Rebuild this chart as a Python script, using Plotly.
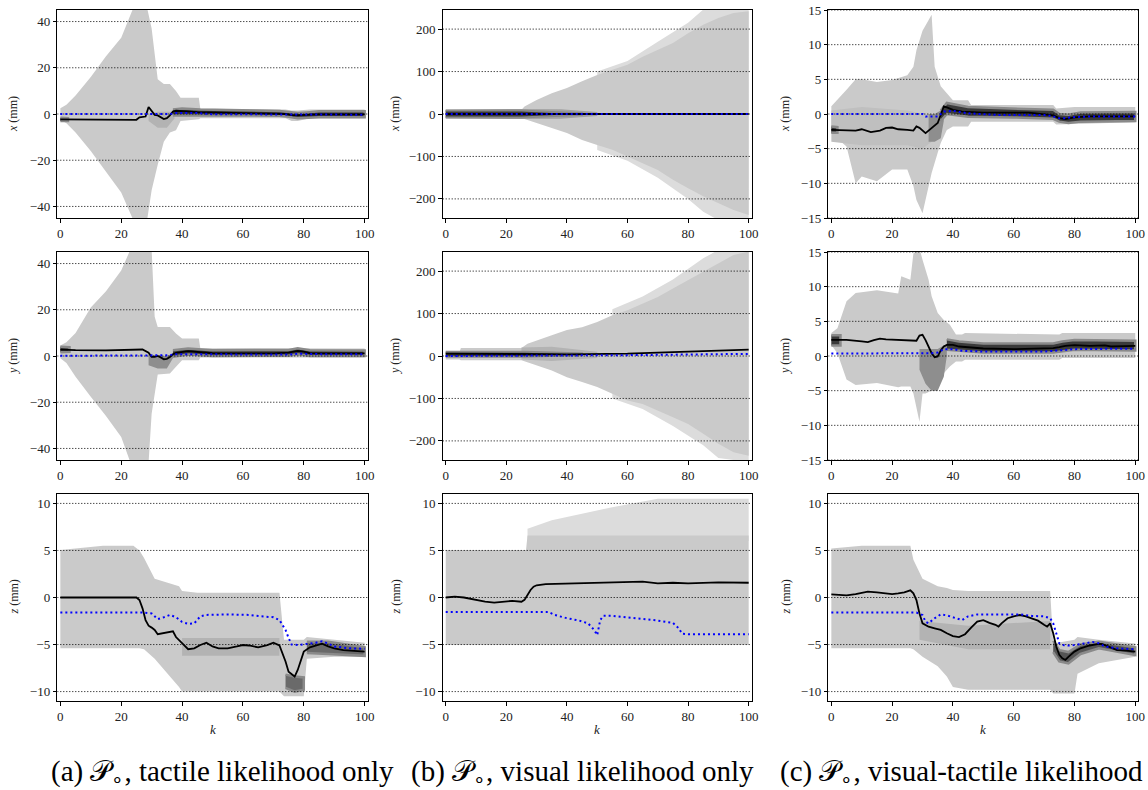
import plotly.graph_objects as go
from plotly.subplots import make_subplots

# ---------------------------------------------------------------- axes
K_RANGE = [-1, 101]
K_TICKS = [0, 20, 40, 60, 80, 100]
XY_TACT_TICKS = [-40, -20, 0, 20, 40]
XY_VIS_TICKS = [-200, -100, 0, 100, 200]
XY_VT_TICKS = [-15, -10, -5, 0, 5, 10, 15]
Z_TICKS = [-10, -5, 0, 5, 10]
XY_TACT_RANGE = [-45, 45]
XY_VIS_RANGE = [-245, 245]
XY_VT_RANGE = [-15, 15]
Z_RANGE = [-11, 11]

ROW_LABELS = ["x", "y", "z"]
CAPTIONS = [
    "(a) \U0001D4AB<sub>\u2218</sub>, tactile likelihood only",
    "(b) \U0001D4AB<sub>\u2218</sub>, visual likelihood only",
    "(c) \U0001D4AB<sub>\u2218</sub>, visual-tactile likelihood",
]

# ------------------------------------------------ (a) tactile likelihood
tac_x_mean_k = [0, 25, 26, 28, 29, 30, 31, 32, 34, 35, 36, 37, 38, 45, 55, 65, 74, 76.5, 80, 85, 100]
tac_x_mean = [-2.3, -2.5, -1.4, -1.1, 3.0, 1.1, -0.4, -0.6, -2.2, -1.8, -0.6, 1.1, 1.4, 0.8, 0.6, 0.5, 0.0, -0.6, -0.5, -0.2, -0.2]
tac_x_true_k = [0, 36, 38, 45, 50, 75, 80, 100]
tac_x_true = [0, 0, 0.4, 0.4, -0.1, -0.1, -0.3, -0.3]

tac_y_mean_k = [0, 5, 15, 25, 27, 29, 30, 31, 32, 33, 34, 35, 36, 37, 38, 42, 45, 50, 70, 75, 78, 80, 82, 100]
tac_y_mean = [2.8, 2.5, 2.4, 2.7, 2.8, 1.4, -0.4, -0.4, 0.0, -0.6, -1.4, -1.2, -0.4, 0.8, 1.4, 2.1, 1.8, 1.2, 1.1, 1.5, 2.2, 1.9, 1.2, 1.1]
tac_y_true_k = [0, 28, 30, 35, 38, 45, 50, 75, 78, 85, 100]
tac_y_true = [0.1, 0.1, 0.3, 0.3, 0.8, 0.8, 0.6, 0.6, 1.0, 0.8, 0.8]

tac_z_mean_k = [0, 25, 26, 27, 28, 29, 30, 31, 32, 35, 37, 38, 40, 42, 44, 46, 48, 50, 52, 55, 58, 60,
                62, 65, 68, 70, 72, 73, 74, 75, 76, 77, 78, 79, 80, 82, 84, 86, 88, 90, 93, 96, 100]
tac_z_mean = [0.0, 0.0, -0.27, -1.15, -2.4, -3.0, -3.2, -3.45, -3.9, -3.75, -3.6, -4.2, -4.9, -5.5, -5.4, -5.05, -4.8, -5.2, -5.4, -5.4, -5.2, -5.05,
              -5.1, -5.3, -5.05, -4.8, -5.1, -5.9, -6.8, -7.9, -8.2, -8.4, -7.7, -6.6, -5.75, -5.3, -5.1, -4.9, -5.2, -5.4, -5.6, -5.65, -5.75]
tac_z_true_k = [0, 27, 30, 32, 34, 36, 38, 40, 42, 44, 46, 48, 55, 62, 66, 70, 72, 74, 75, 76, 78, 80, 82, 84, 86, 88, 90, 95, 100]
tac_z_true = [-1.6, -1.6, -1.7, -2.3, -2.1, -1.85, -2.1, -2.6, -2.8, -2.75, -2.0, -1.85, -1.8, -1.85, -2.0, -2.1, -2.4, -3.45, -4.3, -5.0,
              -5.05, -5.0, -4.9, -4.8, -4.65, -4.9, -5.2, -5.4, -5.45]

# particle spread (histogram outline) for (a)
tac_x_light_k = [0, 2, 5, 10, 15, 20, 24, 28.5, 30, 31, 32, 34, 36, 38, 39.5, 45.5, 46, 74, 76, 78, 80, 82, 100]
tac_x_light_hi = [2.5, 4, 8, 16, 25, 33, 46, 46, 37, 25, 15, 13, 13, 10, 7, 7, 2.3, 2.0, 1.5, 1.5, 1.8, 2.0, 2.0]
tac_x_light_lo = [-2.5, -4, -8, -16, -25, -34, -46, -46, -33, -27, -22, -12, -8, -7, -3, -2.3, -1.8, -1.8, -3, -3, -2.5, -1.8, -1.8]
tac_x_mid_k = [29, 32, 35, 37.5]
tac_x_mid_hi = [0, 1, 1, 1]
tac_x_mid_lo = [-3, -6, -6, -2]
tac_x_core_k = [37, 40, 46, 60, 72, 75, 78, 81, 85, 100]
tac_x_core_hi = [2.0, 2.4, 1.9, 1.6, 1.3, 0.9, 0.4, 0.7, 1.2, 1.2]
tac_x_core_lo = [-0.6, -0.3, -0.5, -0.6, -0.8, -1.2, -1.8, -1.6, -1.4, -1.4]
tac_x_start_k = [0, 2.5]
tac_x_start_hi = [-1.6, -1.8]
tac_x_start_lo = [-3.0, -3.0]

tac_y_light_k = [0, 2, 5, 10, 15, 20, 23, 29, 30, 31, 32, 36, 38, 40, 45.5, 46, 100]
tac_y_light_hi = [4.5, 6, 10, 21, 28, 37, 46, 46, 46, 17, 12.6, 12.6, 9.7, 7.6, 7.6, 3.4, 3.2]
tac_y_light_lo = [-1, -3, -9, -17.6, -26, -35, -46, -46, -25, -17, -8, -7.6, -4.7, -1.8, -1.8, -0.6, -0.6]
tac_y_mid_k = [29, 32, 35, 37]
tac_y_mid_hi = [1, 0, 0, 1]
tac_y_mid_lo = [-4, -5.4, -5.4, -1]
tac_y_core_k = [37, 42, 50, 75, 78, 82, 100]
tac_y_core_hi = [2.5, 3.2, 2.5, 2.6, 3.3, 2.5, 2.4]
tac_y_core_lo = [-0.3, 0.6, 0.0, 0.1, 0.8, 0.0, 0.0]
tac_y_start_k = [0, 3]
tac_y_start_hi = [4.0, 3.8]
tac_y_start_lo = [1.6, 1.8]

tac_z_light_k = [0, 14, 24, 26, 27.5, 31, 39, 40, 45, 72, 73.5, 80, 81, 90, 100]
tac_z_light_hi = [5.05, 5.5, 5.5, 5.0, 4.2, 2.0, 1.2, 0.7, 0.5, 0.5, -4.5, -4.5, -4.2, -4.5, -4.8]
tac_z_light_lo = [-5.4, -5.4, -5.4, -5.4, -5.5, -6.5, -9.5, -10, -10, -10, -10.5, -10.5, -6.5, -6.3, -6.3]
tac_z_mid_k = [40, 72]
tac_z_mid_hi = [-4.3, -4.3]
tac_z_mid_lo = [-6.2, -6.2]
tac_z_dip_k = [74, 77, 80]
tac_z_dip_hi = [-8.2, -8.4, -8.5]
tac_z_dip_lo = [-9.6, -10.0, -9.8]
tac_z_core_k = [81, 88, 100]
tac_z_core_hi = [-4.7, -4.7, -5.3]
tac_z_core_lo = [-5.9, -6.0, -6.2]

# ------------------------------------------------- (b) visual likelihood
vis_x_mean_k = [0, 50, 100]
vis_x_mean = [0, 0, 0]
vis_x_true_k = [0, 50, 100]
vis_x_true = [0, 0, 0]

vis_y_mean_k = [0, 20, 40, 60, 70, 80, 90, 100]
vis_y_mean = [5.5, 4, 4, 5.5, 8, 9.5, 12, 15]
vis_y_true_k = [0, 40, 60, 80, 100]
vis_y_true = [0, 0.5, 2, 3.5, 5]

vis_z_mean_k = [0, 3, 6, 10, 13, 16, 19, 22, 25, 26, 27, 28, 29, 30, 33, 40, 50, 60, 65, 70, 75, 80, 90, 100]
vis_z_mean = [0, 0.1, 0, -0.27, -0.45, -0.55, -0.48, -0.35, -0.45, -0.25, 0.27, 0.8, 1.15, 1.3, 1.43, 1.5, 1.57, 1.68, 1.68, 1.5, 1.57, 1.5, 1.6, 1.57]
vis_z_true_k = [0, 34, 36, 40, 44, 47, 49, 50, 51, 52, 55, 60, 65, 70, 75, 77, 78, 80, 100]
vis_z_true = [-1.55, -1.55, -1.86, -2.2, -2.45, -2.75, -3.45, -4.0, -2.4, -1.95, -1.95, -2.1, -2.3, -2.45, -2.7, -3.3, -3.85, -3.9, -3.9]

vis_x_sparse_k = [50, 60, 70, 80, 85, 90, 100]
vis_x_sparse_hi = [100, 125, 170, 215, 246, 250, 250]
vis_x_sparse_lo = [-85, -110, -150, -200, -230, -250, -250]
vis_x_light_k = [0, 25, 26, 30, 35, 40, 45, 50, 55, 60, 65, 70, 75, 80, 85, 90, 95, 100]
vis_x_light_hi = [10, 10, 17.7, 33, 49, 61, 77, 92, 104, 116, 135, 151, 167, 190, 210, 226, 238, 242]
vis_x_light_lo = [-10, -10, -12, -20, -33, -45, -61, -73, -84, -100, -116, -132, -155, -175, -194, -210, -226, -238]
vis_x_mid_k = [0, 25, 38, 50]
vis_x_mid_hi = [10, 12, 11, 5]
vis_x_mid_lo = [-10, -12, -11, -5]
vis_x_core_k = [0, 25, 35, 45]
vis_x_core_hi = [8, 8, 5, 2]
vis_x_core_lo = [-8, -8, -5, -2]

vis_y_sparse_k = [55, 65, 75, 85, 90, 100]
vis_y_sparse_hi = [110, 140, 180, 230, 250, 250]
vis_y_sparse_lo = [-100, -125, -165, -210, -240, -250]
vis_y_light_k = [0, 4.5, 5, 25, 27, 30, 35, 40, 45, 50, 55, 60, 65, 70, 75, 80, 85, 90, 95, 100]
vis_y_light_hi = [8, 8, 19, 19, 29, 37, 49, 61, 68, 80, 96, 108, 124, 139, 159, 179, 198, 218, 238, 246]
vis_y_light_lo = [-8, -8, -10, -10, -14, -22, -34, -50, -61, -73, -89, -105, -113, -128, -144, -160, -183, -207, -227, -235]
vis_y_mid_k = [25, 35, 50]
vis_y_mid_hi = [20, 22, 10]
vis_y_mid_lo = [-8, -12, -5]
vis_y_core_k = [0, 26, 35, 45]
vis_y_core_hi = [10, 10, 8, 6]
vis_y_core_lo = [-2, -2, 0, 2]

vis_z_sparse_k = [27, 35, 55, 70, 100]
vis_z_sparse_hi = [7.3, 8.2, 9.6, 10.5, 10.5]
vis_z_sparse_lo = [6, 6, 6, 6, 6]
vis_z_light_k = [0, 26.5, 27, 100]
vis_z_light_hi = [5.05, 5.05, 6.6, 6.6]
vis_z_light_lo = [-5.05, -5.05, -5.05, -5.05]

# ------------------------------------------ (c) visual-tactile likelihood
vt_x_mean_k = [0, 4, 8, 10, 13, 16, 18, 20, 22, 25, 27, 28, 29, 31, 33, 35, 36, 37, 38, 40, 43, 50, 65, 70, 73, 75, 77, 80, 85, 100]
vt_x_mean = [-2.28, -2.3, -2.4, -2.2, -2.6, -2.4, -2.0, -1.95, -2.2, -2.3, -2.4, -1.8, -2.0, -2.75, -2.0, -1.3, -0.1, 1.1, 0.95,
             0.6, 0.35, 0.2, 0.2, -0.1, -0.2, -0.6, -0.75, -0.5, -0.35, -0.35]
vt_x_true_k = [0, 30, 31, 35, 37, 40, 45, 50, 55, 70, 72, 75, 77, 80, 85, 100]
vt_x_true = [0, 0, -0.35, -0.35, 0.35, 0.45, 0.1, 0, -0.15, -0.15, -0.25, -0.6, -0.6, -0.45, -0.35, -0.35]

vt_y_mean_k = [0, 5, 10, 12, 14, 16, 18, 25, 28, 29, 30, 31, 32, 33, 34, 35, 36, 37, 38, 40, 42, 44, 50, 60, 70, 73, 75, 77,
               80, 85, 90, 92, 100]
vt_y_mean = [2.33, 2.33, 2.1, 2.0, 2.3, 2.5, 2.4, 2.3, 2.2, 2.95, 3.05, 2.3, 1.37, 0.4, -0.17, -0.07, 0.8, 1.37, 1.6, 1.6,
             1.37, 1.28, 1.08, 0.99, 1.03, 1.13, 1.28, 1.47, 1.56, 1.47, 1.52, 1.37, 1.47]
vt_y_true_k = [0, 32, 33, 35, 37, 40, 43, 50, 60, 70, 75, 80, 90, 100]
vt_y_true = [0.36, 0.36, 0.4, 0.5, 0.99, 0.99, 0.75, 0.65, 0.6, 0.65, 0.8, 0.99, 1.03, 1.03]

vt_z_mean_k = [0, 3, 5, 8, 10, 12, 15, 18, 20, 22, 24, 26, 27, 28, 29, 30, 31, 32, 34, 36, 38, 40, 42, 44, 46, 48, 50, 52,
               54, 55, 56, 58, 60, 62, 64, 66, 68, 70, 71, 72, 73, 74, 75, 76, 77, 78, 80, 82, 85, 88, 89, 91, 94, 97, 100]
vt_z_mean = [0.34, 0.3, 0.23, 0.37, 0.51, 0.62, 0.55, 0.44, 0.37, 0.44, 0.55, 0.76, 0.44, -0.27, -1.7, -2.74, -2.9, -3.1,
             -3.27, -3.45, -3.8, -4.1, -4.2, -3.9, -3.2, -2.57, -2.4, -2.7, -2.9, -3.1, -2.74, -2.2, -2.0, -1.86, -2.0, -2.2,
             -2.46, -2.9, -3.1, -2.74, -3.8, -5.2, -6.1, -6.46, -6.64, -6.3, -5.75, -5.4, -5.1, -4.94, -4.94, -5.2, -5.6,
             -5.65, -5.75]
vt_z_true_k = [0, 28, 30, 31, 32, 34, 36, 38, 40, 42, 43, 45, 48, 55, 62, 66, 70, 72, 73, 74, 75, 76, 78, 80, 84, 86, 88,
               90, 94, 100]
vt_z_true = [-1.6, -1.6, -1.86, -2.57, -2.74, -2.2, -1.8, -1.9, -2.1, -2.3, -2.4, -2.0, -1.8, -1.8, -1.8, -1.96, -2.0, -2.2,
             -2.74, -3.8, -4.87, -5.05, -5.1, -5.05, -4.8, -4.73, -4.87, -5.2, -5.4, -5.5]

vt_x_light_k = [0, 2, 5, 8, 10, 15, 20, 25, 27, 28, 30, 33, 34, 35, 36, 38, 40, 45, 46, 73, 74, 80, 100]
vt_x_light_hi = [1.1, 2, 3.5, 5.0, 5.0, 4.6, 4.9, 5.6, 6.8, 9.2, 12, 14.3, 6.8, 5.4, 4, 3, 2, 2, 1.3, 1.3, 0.8, 1.0, 1.0]
vt_x_light_lo = [-2.8, -3.5, -4.7, -10, -9, -9.7, -8, -8, -10.4, -12.4, -14.3, -8.5, -7, -5.6, -4.2, -2.3, -1.8, -1.8,
                 -1.1, -1.1, -1.5, -1.4, -1.2]
vt_x_mid_k = [0, 10, 25, 30, 33]
vt_x_mid_hi = [0.5, 1, 0.5, 0, 0]
vt_x_mid_lo = [-4, -4.5, -4.5, -5, -4]
vt_x_dark_k = [32, 34, 36, 37]
vt_x_dark_hi = [0, 0, 0.5, 1]
vt_x_dark_lo = [-4, -4, -3.5, -1]
vt_x_core_k = [36, 38, 45, 60, 73, 75, 78, 82, 100]
vt_x_core_hi = [0.5, 1.6, 1.0, 0.8, 0.6, 0.0, -0.1, 0.2, 0.3]
vt_x_core_lo = [-1.0, 0.0, -0.4, -0.5, -0.7, -1.1, -1.3, -1.1, -1.0]
vt_x_start_k = [0, 2]
vt_x_start_hi = [-1.8, -1.9]
vt_x_start_lo = [-2.7, -2.7]

vt_y_light_k = [0, 2, 5, 8, 15, 22, 23, 26, 27, 29, 30, 31, 32, 33, 35, 37, 39, 41, 43, 44, 75, 76, 100]
vt_y_light_hi = [3.3, 4, 7.9, 9.1, 9.5, 9.0, 11.5, 11, 14.8, 15.5, 13.9, 12.4, 11, 8.6, 6.2, 5.2, 4.5, 3.1, 3.1, 3.3,
                 3.1, 3.3, 3.3]
vt_y_light_lo = [1.6, 0.4, -3.4, -4.2, -3.9, -4.5, -4.4, -4.4, -5.4, -9.5, -5.4, -5.4, -5.2, -5.0, -4.0, -2.5, -1.5, -0.8,
                 -0.8, -0.55, -0.55, -0.3, -0.3]
vt_y_dark_k = [29, 31, 33, 35, 37, 38]
vt_y_dark_hi = [1, 1, 1, 1, 1.5, 1.5]
vt_y_dark_lo = [-2, -4, -5, -5, -3, 0]
vt_y_core_k = [38, 42, 50, 73, 76, 80, 100]
vt_y_core_hi = [2.4, 2.1, 1.8, 1.8, 2.1, 2.3, 2.2]
vt_y_core_lo = [0.9, 0.7, 0.5, 0.5, 0.7, 0.9, 0.8]
vt_y_start_k = [0, 3]
vt_y_start_hi = [3.0, 3.0]
vt_y_start_lo = [1.5, 1.5]

vt_z_light_k = [0, 10, 26, 27, 30, 35, 38, 40, 45, 72, 73, 80, 81, 88, 100]
vt_z_light_hi = [5.2, 5.5, 5.5, 4.0, 2.0, 1.2, 1.0, 0.8, 0.7, 0.7, -4.9, -4.5, -4.2, -4.5, -4.9]
vt_z_light_lo = [-5.4, -5.4, -5.4, -5.5, -6.3, -7.3, -8.4, -9.5, -9.8, -9.8, -10.2, -10.2, -8.1, -7.0, -6.3]
vt_z_mid_k = [29, 45, 72]
vt_z_mid_hi = [-2.5, -3.0, -2.5]
vt_z_mid_lo = [-4.5, -5.5, -5.5]
vt_z_core_k = [73, 75, 78, 82, 88, 100]
vt_z_core_hi = [-4.6, -5.6, -5.8, -5.0, -4.7, -5.3]
vt_z_core_lo = [-5.8, -6.8, -7.0, -6.0, -5.4, -6.1]

# ------------------------------------------------------------- styling
SPARSE = "#dcdcdc"
LIGHT = "#cacaca"
MID = "#b3b3b3"
DARK = "#8e8e8e"
CORE = "#3a3a3a"
CORE_EDGE = "#8a8a8a"
FONT = "Liberation Serif"

# (row, col): y range, y ticks, spread bands, mean line, true trajectory
PANELS = {
    (1, 1): (XY_TACT_RANGE, XY_TACT_TICKS,
             [(tac_x_light_k, tac_x_light_hi, tac_x_light_lo, LIGHT, 0),
              (tac_x_mid_k, tac_x_mid_hi, tac_x_mid_lo, MID, 0),
              (tac_x_core_k, tac_x_core_hi, tac_x_core_lo, CORE, 2.5),
              (tac_x_start_k, tac_x_start_hi, tac_x_start_lo, CORE, 2.5)],
             (tac_x_mean_k, tac_x_mean), (tac_x_true_k, tac_x_true)),
    (2, 1): (XY_TACT_RANGE, XY_TACT_TICKS,
             [(tac_y_light_k, tac_y_light_hi, tac_y_light_lo, LIGHT, 0),
              (tac_y_mid_k, tac_y_mid_hi, tac_y_mid_lo, DARK, 0),
              (tac_y_core_k, tac_y_core_hi, tac_y_core_lo, CORE, 2.5),
              (tac_y_start_k, tac_y_start_hi, tac_y_start_lo, CORE, 2.5)],
             (tac_y_mean_k, tac_y_mean), (tac_y_true_k, tac_y_true)),
    (3, 1): (Z_RANGE, Z_TICKS,
             [(tac_z_light_k, tac_z_light_hi, tac_z_light_lo, LIGHT, 0),
              (tac_z_mid_k, tac_z_mid_hi, tac_z_mid_lo, MID, 0),
              (tac_z_dip_k, tac_z_dip_hi, tac_z_dip_lo, "#6a6a6a", 2.5),
              (tac_z_core_k, tac_z_core_hi, tac_z_core_lo, "#6a6a6a", 2.5)],
             (tac_z_mean_k, tac_z_mean), (tac_z_true_k, tac_z_true)),
    (1, 2): (XY_VIS_RANGE, XY_VIS_TICKS,
             [(vis_x_sparse_k, vis_x_sparse_hi, vis_x_sparse_lo, SPARSE, 0),
              (vis_x_light_k, vis_x_light_hi, vis_x_light_lo, LIGHT, 0),
              (vis_x_mid_k, vis_x_mid_hi, vis_x_mid_lo, "#a2a2a2", 0),
              (vis_x_core_k, vis_x_core_hi, vis_x_core_lo, CORE, 2)],
             (vis_x_mean_k, vis_x_mean), (vis_x_true_k, vis_x_true)),
    (2, 2): (XY_VIS_RANGE, XY_VIS_TICKS,
             [(vis_y_sparse_k, vis_y_sparse_hi, vis_y_sparse_lo, SPARSE, 0),
              (vis_y_light_k, vis_y_light_hi, vis_y_light_lo, LIGHT, 0),
              (vis_y_mid_k, vis_y_mid_hi, vis_y_mid_lo, MID, 0),
              (vis_y_core_k, vis_y_core_hi, vis_y_core_lo, CORE, 2)],
             (vis_y_mean_k, vis_y_mean), (vis_y_true_k, vis_y_true)),
    (3, 2): (Z_RANGE, Z_TICKS,
             [(vis_z_sparse_k, vis_z_sparse_hi, vis_z_sparse_lo, SPARSE, 0),
              (vis_z_light_k, vis_z_light_hi, vis_z_light_lo, LIGHT, 0)],
             (vis_z_mean_k, vis_z_mean), (vis_z_true_k, vis_z_true)),
    (1, 3): (XY_VT_RANGE, XY_VT_TICKS,
             [(vt_x_light_k, vt_x_light_hi, vt_x_light_lo, LIGHT, 0),
              (vt_x_mid_k, vt_x_mid_hi, vt_x_mid_lo, "#bfbfbf", 0),
              (vt_x_dark_k, vt_x_dark_hi, vt_x_dark_lo, DARK, 0),
              (vt_x_core_k, vt_x_core_hi, vt_x_core_lo, CORE, 2.5),
              (vt_x_start_k, vt_x_start_hi, vt_x_start_lo, CORE, 2.5)],
             (vt_x_mean_k, vt_x_mean), (vt_x_true_k, vt_x_true)),
    (2, 3): (XY_VT_RANGE, XY_VT_TICKS,
             [(vt_y_light_k, vt_y_light_hi, vt_y_light_lo, LIGHT, 0),
              (vt_y_dark_k, vt_y_dark_hi, vt_y_dark_lo, DARK, 0),
              (vt_y_core_k, vt_y_core_hi, vt_y_core_lo, CORE, 2.5),
              (vt_y_start_k, vt_y_start_hi, vt_y_start_lo, CORE, 2.5)],
             (vt_y_mean_k, vt_y_mean), (vt_y_true_k, vt_y_true)),
    (3, 3): (Z_RANGE, Z_TICKS,
             [(vt_z_light_k, vt_z_light_hi, vt_z_light_lo, LIGHT, 0),
              (vt_z_mid_k, vt_z_mid_hi, vt_z_mid_lo, MID, 0),
              (vt_z_core_k, vt_z_core_hi, vt_z_core_lo, "#555555", 2.5)],
             (vt_z_mean_k, vt_z_mean), (vt_z_true_k, vt_z_true)),
}

W, H = 1148, 790
COL_PX = [(57.3, 367.7), (442.7, 751.7), (828.3, 1138.3)]
ROW_PX = [(10, 218), (252, 460), (494, 701)]
YLABEL_X = [13, 395, 785]
CAPTION_X = [222, 582, 961]
CAPTION_Y = 773
KLABEL_Y = 729

fig = make_subplots(rows=3, cols=3)

for (r, c), (yrange, yticks, bands, mean, truth) in PANELS.items():
    for k, hi, lo, color, edge in bands:
        fig.add_trace(go.Scatter(
            x=list(k) + list(k)[::-1], y=list(hi) + list(lo)[::-1],
            mode="lines", fill="toself", fillcolor=color,
            line=dict(width=edge, color=CORE_EDGE if edge else color),
            hoverinfo="skip", showlegend=False), row=r, col=c)
    # dotted horizontal grid at each y tick, above the particle spread
    for t in yticks:
        fig.add_trace(go.Scatter(
            x=K_RANGE, y=[t, t], mode="lines",
            line=dict(color="black", width=1, dash="1px,2px"),
            hoverinfo="skip", showlegend=False), row=r, col=c)
    fig.add_trace(go.Scatter(x=mean[0], y=mean[1], mode="lines",
                             line=dict(color="black", width=1.8),
                             showlegend=False), row=r, col=c)
    fig.add_trace(go.Scatter(x=truth[0], y=truth[1], mode="lines",
                             line=dict(color="#0000ff", width=2, dash="2px,3px"),
                             showlegend=False), row=r, col=c)

    x0, x1 = COL_PX[c - 1]
    y0, y1 = ROW_PX[r - 1]
    axis_common = dict(showline=True, mirror=True, linecolor="black", linewidth=1,
                       ticks="outside", ticklen=3.5, tickwidth=1, tickcolor="black",
                       showgrid=False, zeroline=False, automargin=False,
                       tickfont=dict(family=FONT, size=13, color="#222222"))
    fig.update_xaxes(domain=[x0 / W, x1 / W], range=K_RANGE, tickvals=K_TICKS,
                     row=r, col=c, **axis_common)
    fig.update_yaxes(domain=[1 - y1 / H, 1 - y0 / H], range=yrange, tickvals=yticks,
                     row=r, col=c, **axis_common)

annotations = []
for r in range(3):
    y0, y1 = ROW_PX[r]
    for c in range(3):
        annotations.append(dict(
            text=f"<i>{ROW_LABELS[r]}</i> (mm)", x=YLABEL_X[c] / W, y=1 - (y0 + y1) / 2 / H,
            xref="paper", yref="paper", xanchor="center", yanchor="middle",
            showarrow=False, textangle=-90,
            font=dict(family=FONT, size=12, color="#222222")))
for c in range(3):
    x0, x1 = COL_PX[c]
    annotations.append(dict(
        text="<i>k</i>", x=(x0 + x1) / 2 / W, y=1 - KLABEL_Y / H, xref="paper", yref="paper",
        xanchor="center", yanchor="middle",
        showarrow=False, font=dict(family=FONT, size=13, color="#222222")))
    annotations.append(dict(
        text=CAPTIONS[c], x=CAPTION_X[c] / W, y=1 - CAPTION_Y / H, xref="paper", yref="paper",
        xanchor="center", yanchor="middle",
        showarrow=False, font=dict(family=FONT, size=29, color="black")))

fig.update_layout(width=W, height=H, margin=dict(l=0, r=0, t=0, b=0, autoexpand=False),
                  paper_bgcolor="white", plot_bgcolor="white",
                  annotations=annotations, showlegend=False)

fig.write_html("out.html")
